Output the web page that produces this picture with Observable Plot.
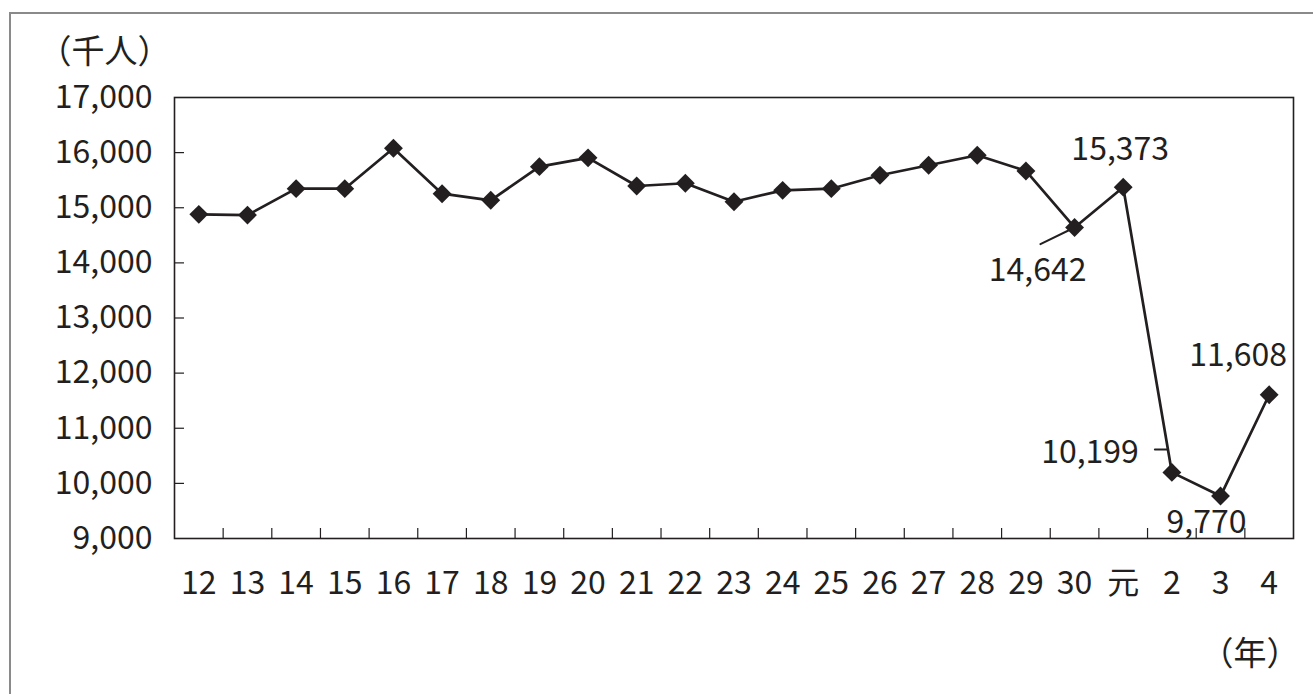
<!DOCTYPE html>
<html>
<head>
<meta charset="utf-8">
<script src="https://cdn.jsdelivr.net/npm/d3@7"></script>
<script src="https://cdn.jsdelivr.net/npm/@observablehq/plot@0.6"></script>
<style>
  html, body { margin: 0; padding: 0; background: #fff; overflow: hidden; }
  #wrap { position: relative; width: 1313px; height: 694px; overflow: hidden; }
  #border { position: absolute; left: 9px; top: 12px; width: 1330px; height: 720px;
            border: 2px solid #8a8a8a; box-sizing: border-box; pointer-events: none; }
</style>
</head>
<body>
<div id="wrap"><div id="border"></div></div>
<script>
// ---- data ----
const categories = ["12","13","14","15","16","17","18","19","20","21","22","23","24","25","26","27","28","29","30","元","2","3","4"];
const visitors = [14880, 14867, 15346, 15346, 16080, 15255, 15135, 15745, 15905, 15395, 15444, 15109, 15316, 15346, 15589, 15771, 15953, 15667, 14642, 15373, 10199, 9770, 11608];
const yTicks = [9000, 10000, 11000, 12000, 13000, 14000, 15000, 16000, 17000];
const labeledCats = ["30", "元", "2", "3", "4"];
const yUnit = "（千人）";
const xUnit = "（年）";

// ---- layout ----
const W = 1313, H = 694;
const mL = 174, mR = 20, mT = 97, mB = 156;
const frameW = W - mL - mR, frameH = H - mT - mB;
const ink = "#231f20";
const font = "'Noto Sans CJK JP', 'Noto Sans', sans-serif";

const data = categories.map((c, i) => ({i, c, v: visitors[i]}));
const n = categories.length;
const boundaries = d3.range(n - 1).map(i => i + 0.5);
const fmt = d3.format(",");

// label offsets (layout only)
const labelStyle = {
  "30": {dx: -37, dy: 43, textAnchor: "middle"},
  "元": {dx: -3, dy: -37, textAnchor: "middle"},
  "2":  {dx: -33, dy: -20, textAnchor: "end"},
  "3":  {dx: -14, dy: 27, textAnchor: "middle"},
  "4":  {dx: -31, dy: -39, textAnchor: "middle"}
};
const labelMarks = labeledCats.map(c => {
  const d = data[categories.indexOf(c)];
  return Plot.text([d], {x: "i", y: "v", text: d => fmt(d.v), lineAnchor: "middle", fill: ink, ...labelStyle[c]});
});

const lineShape = {draw(ctx, l) { ctx.moveTo(0, 0); ctx.lineTo(0, -l); }};
const d30 = data[categories.indexOf("30")];
const d2 = data[categories.indexOf("2")];

const chart = Plot.plot({
  width: W, height: H,
  marginLeft: mL, marginRight: mR, marginTop: mT, marginBottom: mB,
  style: {fontFamily: font, fontSize: "32px", color: ink, background: "transparent", overflow: "visible"},
  x: {type: "linear", domain: [-0.5, n - 0.5]},
  y: {domain: [yTicks[0], yTicks[yTicks.length - 1]]},
  marks: [
    Plot.ruleY(yTicks.slice(1, -1), {y: d => d, insetRight: frameW - 10, stroke: ink, strokeWidth: 1.2}),
    Plot.ruleX(boundaries, {x: d => d, insetTop: frameH - 10, stroke: ink, strokeWidth: 1.2}),
    Plot.frame({stroke: ink, strokeWidth: 1.6}),
    Plot.axisY(yTicks, {tickSize: 0, tickPadding: 22, tickFormat: fmt, label: null, fill: ink}),
    Plot.axisX(d3.range(n), {tickSize: 0, tickPadding: 33, tickFormat: i => categories[i], label: null, fill: ink}),
    Plot.vector([d30], {x: "i", y: "v", length: 38, rotate: 244, anchor: "start", shape: lineShape, stroke: ink, strokeWidth: 2}),
    Plot.vector([d2], {x: "i", y: "v", length: 13, rotate: 270, anchor: "start", shape: lineShape, dx: -4, dy: -23, stroke: ink, strokeWidth: 2}),
    Plot.line(data, {x: "i", y: "v", stroke: ink, strokeWidth: 2.7}),
    Plot.dot(data, {x: "i", y: "v", symbol: "diamond2", r: 8.5, fill: ink, stroke: "none"}),
    ...labelMarks,
    Plot.text([yUnit], {frameAnchor: "top-left", text: d => d, dx: -136, dy: -45, textAnchor: "start", lineAnchor: "middle", fill: ink, fontSize: 33}),
    Plot.text([xUnit], {frameAnchor: "bottom-right", text: d => d, dx: 6, dy: 116, textAnchor: "end", lineAnchor: "middle", fill: ink, fontSize: 33})
  ]
});
document.getElementById("wrap").prepend(chart);
</script>
</body>
</html>
